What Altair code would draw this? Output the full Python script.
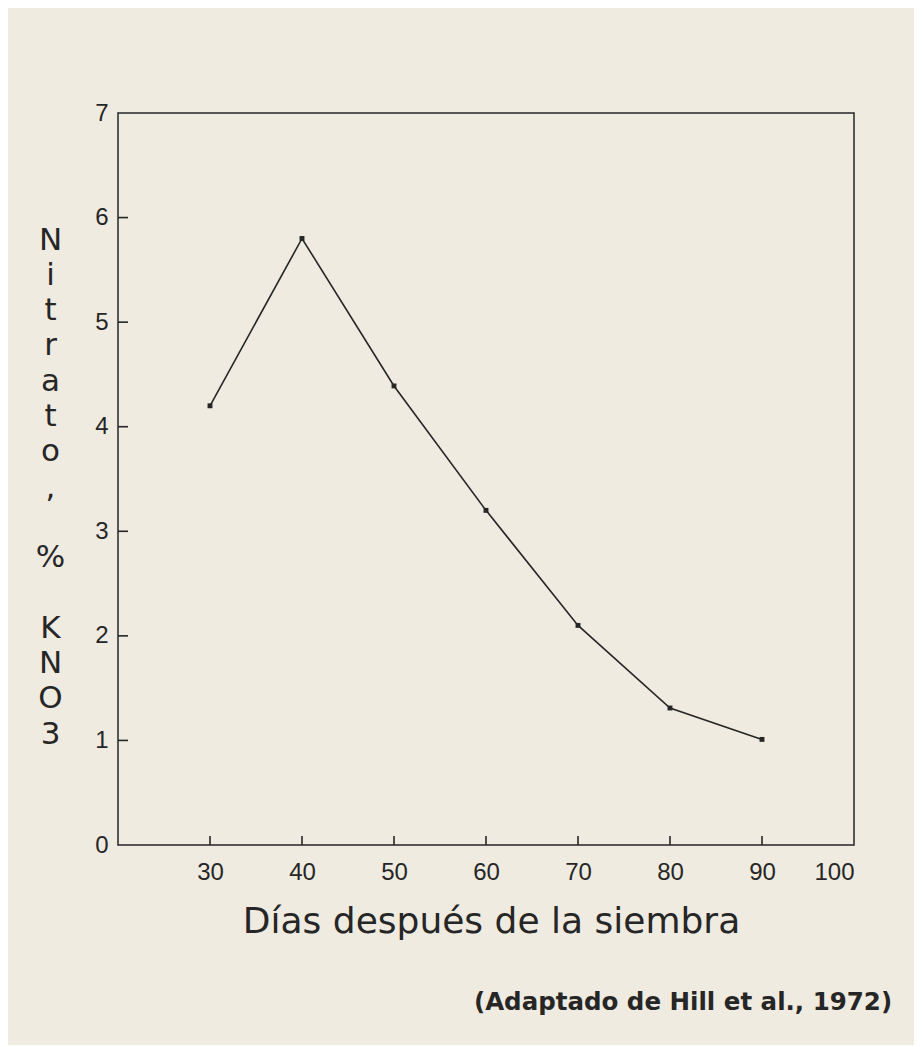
import altair as alt
import pandas as pd

# ---- data ----
dias = [30, 40, 50, 60, 70, 80, 90]
nitrato = [4.20, 5.80, 4.39, 3.20, 2.10, 1.31, 1.01]
x_label_values = [30, 40, 50, 60, 70, 80, 90, 100]
y_label_values = [0, 1, 2, 3, 4, 5, 6, 7]
x_tick_marks = [30, 40, 50, 60, 70, 80, 90]
y_tick_marks = [1, 2, 3, 4, 5, 6]
BLANK = "\u2800"
y_title_lines = ["N", "i", "t", "r", "a", "t", "o", ",", BLANK, "%", BLANK, "K", "N", "O", "3"]
x_title = "Días después de la siembra"
caption = "(Adaptado de Hill et al., 1972)"

df = pd.DataFrame({"dias": dias, "nitrato": nitrato})
xt = pd.DataFrame({"v": x_tick_marks, "base": [0] * len(x_tick_marks)})
yt = pd.DataFrame({"v": y_tick_marks, "base": [20] * len(y_tick_marks)})
cap = pd.DataFrame({"t": [caption]})

ink = "#262626"
bg = "#efebe0"
font = "DejaVu Sans"
lab_font = "Liberation Sans"

W, H = 736, 732
xs = alt.Scale(domain=[20, 100], nice=False, zero=False)
ys = alt.Scale(domain=[0, 7], nice=False, zero=True)

xaxis = alt.Axis(
    values=x_label_values, ticks=False, domain=False, grid=False, format="d",
    labelFont=lab_font, labelFontSize=24, labelColor=ink, labelPadding=15,
    title=x_title, titleFont=font, titleFontSize=36, titleFontWeight="normal",
    titleColor=ink, titleX=373, titleY=87, titleAlign="center",
    titleBaseline="alphabetic",
)
yaxis = alt.Axis(
    values=y_label_values, ticks=False, domain=False, grid=False, format="d",
    labelFont=lab_font, labelFontSize=24, labelColor=ink, labelPadding=10,
    title=y_title_lines, titleFont=font, titleFontSize=31, titleFontWeight="normal",
    titleColor=ink, titleAngle=0, titleX=-68, titleY=112, titleAlign="center",
    titleBaseline="top", titleLineHeight=35.3,
)

line = alt.Chart(df).mark_line(color=ink, strokeWidth=1.6).encode(
    x=alt.X("dias:Q", scale=xs, axis=xaxis),
    y=alt.Y("nitrato:Q", scale=ys, axis=yaxis),
)
pts = alt.Chart(df).mark_point(shape="square", filled=True, size=24, color=ink, opacity=1).encode(
    x=alt.X("dias:Q", scale=xs),
    y=alt.Y("nitrato:Q", scale=ys),
)
xticks = alt.Chart(xt).mark_rule(color=ink, strokeWidth=1.6).encode(
    x=alt.X("v:Q", scale=xs),
    y=alt.Y("base:Q", scale=ys),
    y2=alt.value(H - 9),
)
yticks = alt.Chart(yt).mark_rule(color=ink, strokeWidth=1.6).encode(
    x=alt.X("base:Q", scale=xs),
    x2=alt.value(10),
    y=alt.Y("v:Q", scale=ys),
)
captxt = alt.Chart(cap).mark_text(font=font, fontSize=24.5, fontWeight="bold", color=ink,
                                  align="center", baseline="middle").encode(
    text="t:N", x=alt.value(565), y=alt.value(890)
)

chart = alt.layer(line, pts, xticks, yticks, captxt).properties(
    width=W, height=H,
    padding={"left": 110, "top": 105, "right": 60, "bottom": 200},
    autosize=alt.AutoSizeParams(type="none"),
    background=bg,
).configure_view(stroke=ink, strokeWidth=1.5, fill=None)

chart.save("out.html", embed_options={"renderer": "svg", "actions": False})
